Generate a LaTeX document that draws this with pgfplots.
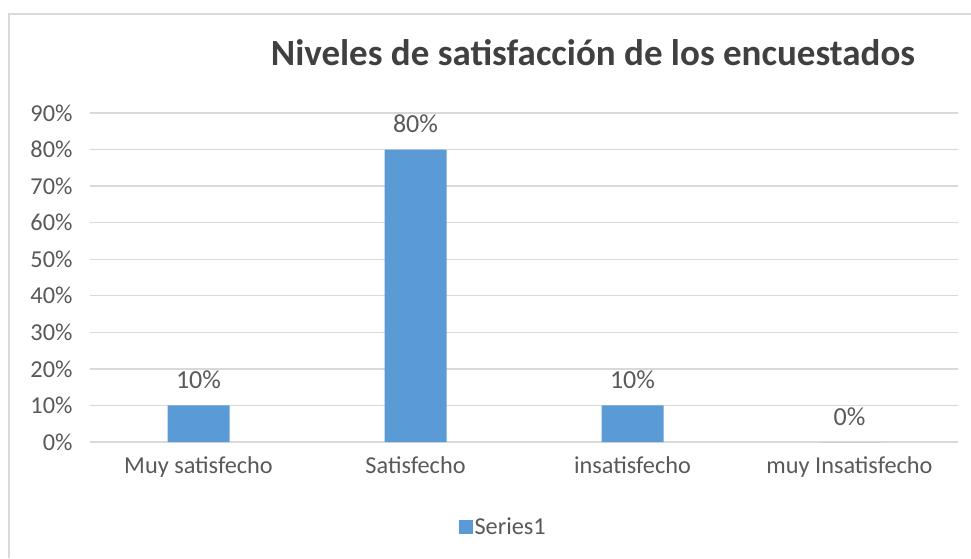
\documentclass[border=0pt]{standalone}
\usepackage{pgfplots}
\pgfplotsset{compat=1.18}
\usepackage{fontspec}
\setmainfont{Carlito}
\definecolor{barblue}{HTML}{5B9BD5}
\definecolor{txtgray}{HTML}{595959}
\definecolor{titlegray}{HTML}{404040}
\definecolor{gridgray}{HTML}{D9D9D9}
\begin{document}
\begin{tikzpicture}[x=1pt,y=1pt]
\useasboundingbox (0,0) rectangle (971,558);
\draw[gridgray, line width=1.5pt] (9,0) -- (9,544) -- (971,544);
\node[font=\fontsize{37}{42}\selectfont\bfseries, text=titlegray] at (593,505) {Niveles de satisfacción de los encuestados};
\begin{axis}[
  at={(90pt,116pt)}, anchor=south west,
  scale only axis, width=868pt, height=329pt,
  xmin=-0.5, xmax=3.5, ymin=0, ymax=90,
  xtick=data,
  xticklabels={Muy satisfecho, Satisfecho, insatisfecho, muy Insatisfecho},
  ytick={0,10,...,90},
  yticklabel={\pgfmathprintnumber{\tick}\%},
  /pgf/number format/assume math mode=true,
  ymajorgrids, grid style={gridgray, line width=1.3pt},
  axis line style={draw=none},
  major tick length=0pt,
  tick label style={font=\fontsize{24.3}{28}\selectfont, text=txtgray},
  yticklabel style={xshift=-14pt},
  xticklabel style={yshift=-11pt},
  ybar, bar width=62pt,
  nodes near coords={\pgfmathprintnumber{\pgfplotspointmeta}\%},
  nodes near coords style={font=\fontsize{26}{30}\selectfont, text=txtgray, yshift=13pt},
  legend style={at={(0.476,-0.258)}, anchor=center, draw=none, font=\fontsize{24.3}{28}\selectfont, text=txtgray, inner sep=0pt},
  legend image code/.code={\fill[barblue] (0pt,-7pt) rectangle (14pt,7pt);},
  clip=false,
]
\addplot[fill=barblue, draw=none] coordinates {(0,10) (1,80) (2,10) (3,0)};
\addlegendentry{Series1}
\end{axis}
\end{tikzpicture}
\end{document}
